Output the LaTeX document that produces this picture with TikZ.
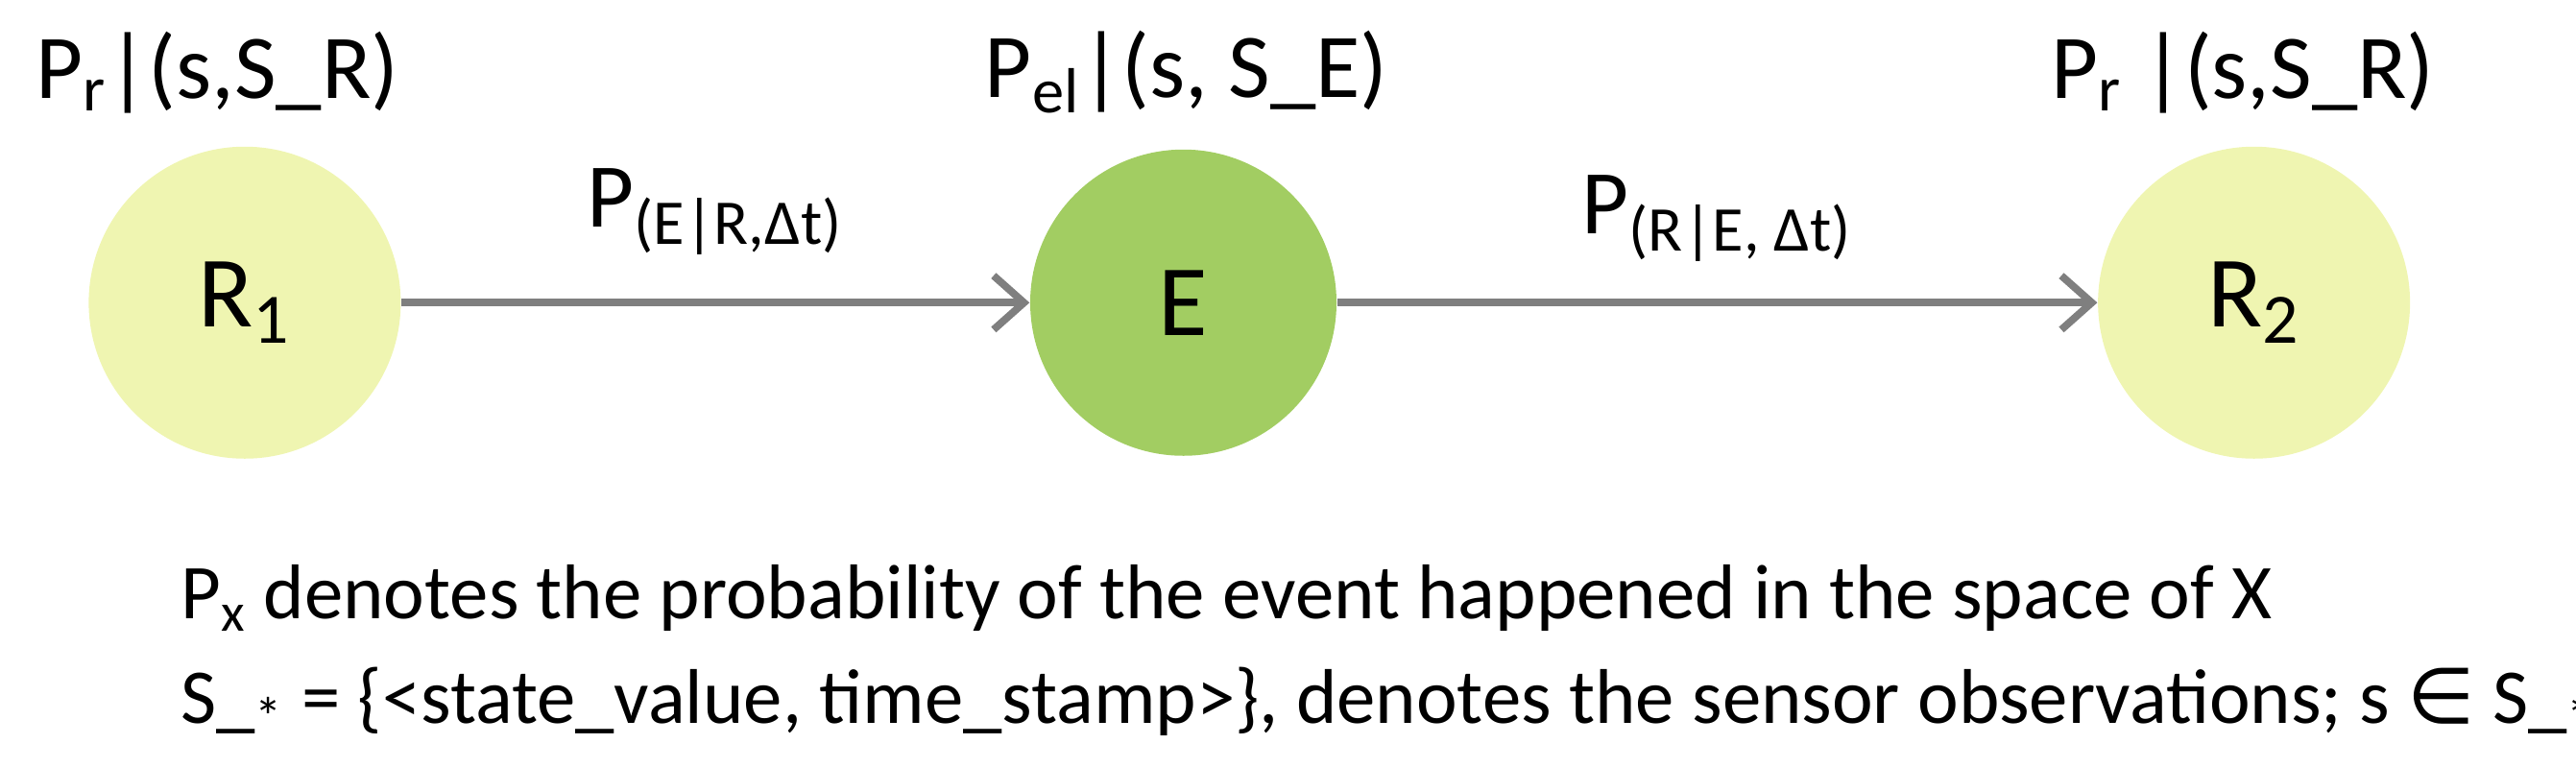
\documentclass[tikz,border=0pt]{standalone}
\usepackage{fontspec}
\setmainfont{Carlito}
\newfontfamily\symfont{DejaVu Sans}
\usetikzlibrary{arrows.meta}
\definecolor{paleGreen}{HTML}{EFF5B1}
\definecolor{midGreen}{HTML}{A2CD62}
\definecolor{arrGray}{HTML}{7F7F7F}
\tikzset{
    state/.style={circle, minimum size=3.25cm, inner sep=0pt, font=\fontsize{30}{34}\selectfont}, % state circle
    lbl/.style={font=\fontsize{27}{31}\selectfont, inner sep=0pt}, % probability label
    trans/.style={draw=arrGray, line width=2.2pt, -{Straight Barb[length=9pt, width=16pt]}} % transition arrow
}
\begin{document}
\begin{tikzpicture}[x=0.01677cm, y=0.01677cm]
    \useasboundingbox (0,0) rectangle (1600,-477);

    \node[state, fill=paleGreen] (r1) at (152,-188) {R\textsubscript{1}};
    \node[state, fill=midGreen, minimum size=3.19cm] (e) at (735,-188) {E};
    \node[state, fill=paleGreen] (r2) at (1400,-188) {R\textsubscript{2}};

    \node[lbl] (pr1) at (135,-45) {P\textsubscript{r}|(s,S\_R)};
    \node[lbl] (pe) at (737,-45) {P\textsubscript{el}|(s, S\_E)};
    \node[lbl] (pr2) at (1393,-45) {P\textsubscript{r} |(s,S\_R)};

    \draw[trans] (r1) -- (e) node[lbl, midway, above=13pt] {P\textsubscript{(E|R,Δt)}};
    \draw[trans] (e) -- (r2) node[lbl, midway, above=11pt] {P\textsubscript{(R|E, Δt)}};

    \node[lbl, anchor=west, align=left, font=\fontsize{23}{31}\selectfont] (note) at (112,-404) {P\textsubscript{x} denotes the probability of the event happened in the space of X\\S\_\textsubscript{*} = \{<state\_value, time\_stamp>\}, denotes the sensor observations; s {\symfont ∈} S\_\textsubscript{*}};
\end{tikzpicture}
\end{document}
